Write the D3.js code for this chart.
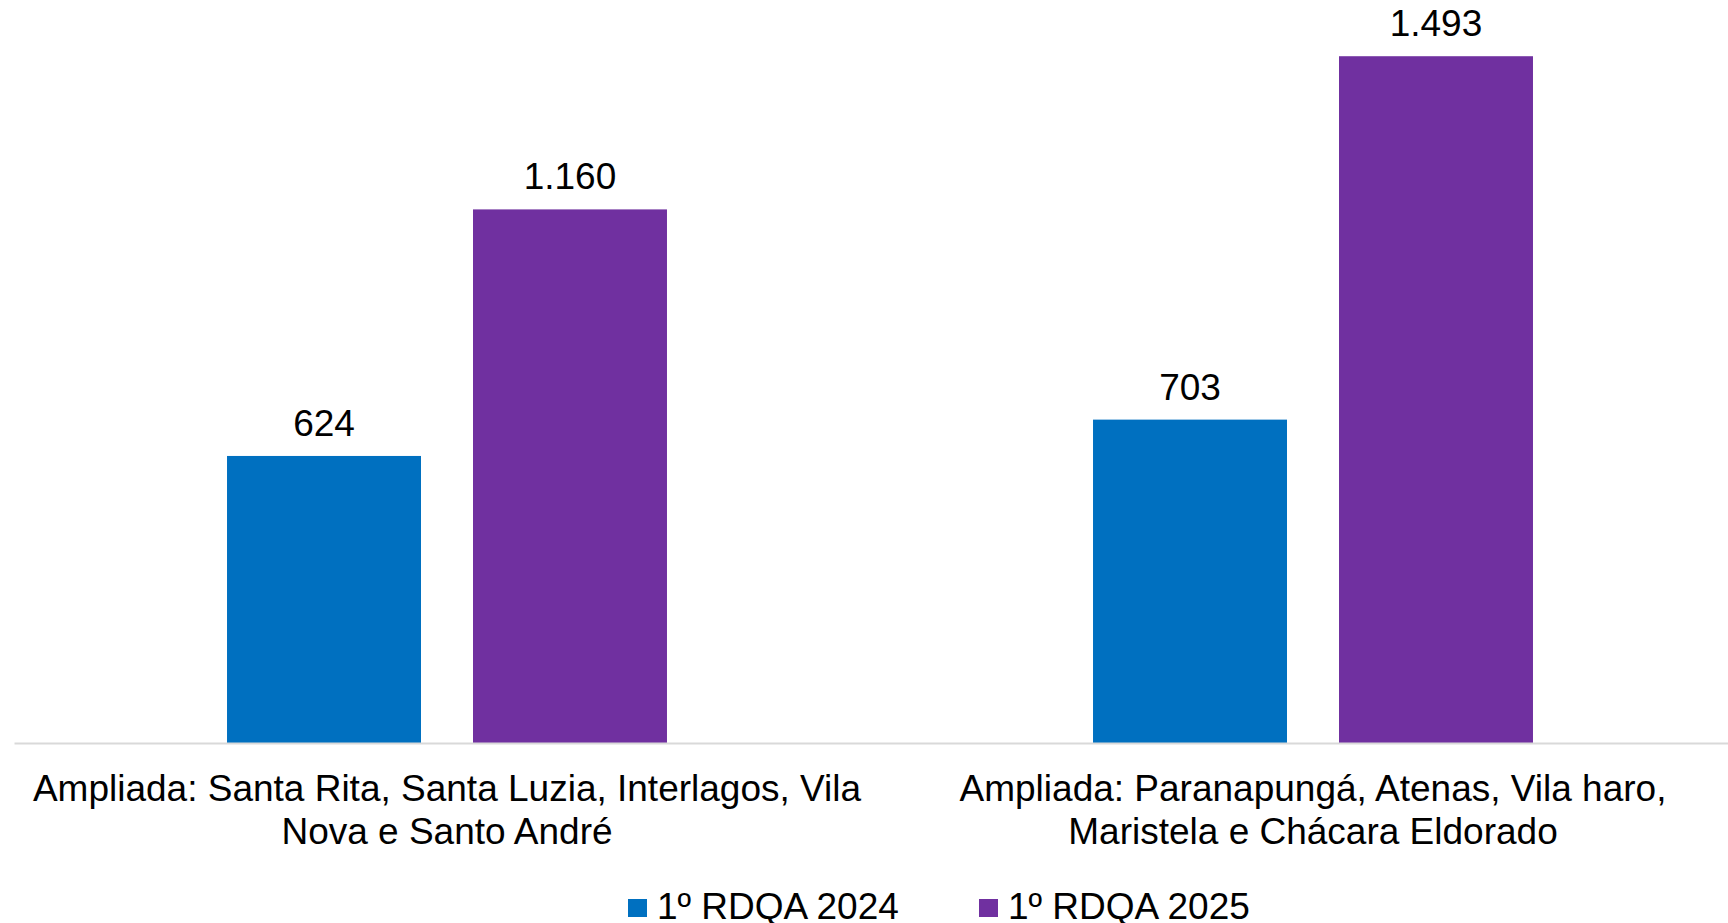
<!DOCTYPE html>
<html>
<head>
<meta charset="utf-8">
<script src="https://cdn.jsdelivr.net/npm/d3@7"></script>
<style>
  html, body { margin: 0; padding: 0; background: #fff; }
  svg { display: block; font-family: "Liberation Sans", Arial, sans-serif; }
</style>
</head>
<body>
<svg width="1728" height="923"></svg>
<script>
// data
var categories = [
  ["Ampliada: Santa Rita, Santa Luzia, Interlagos, Vila", "Nova e Santo André"],
  ["Ampliada: Paranapungá, Atenas, Vila haro,", "Maristela e Chácara Eldorado"]
];
var seriesNames = ["1º RDQA 2024", "1º RDQA 2025"];
var values2024 = [624, 703];
var values2025 = [1160, 1493];
var colors = ["#0070c0", "#7030a0"];

var width = 1728, height = 923;
var margin = {top: 7, right: -18, bottom: 180, left: 14};

var svg = d3.select("svg");

// set the ranges
var x0 = d3.scaleBand()
    .domain(d3.range(categories.length))
    .range([margin.left, width - margin.right])
    .paddingInner(0)
    .paddingOuter(0);

var x1 = d3.scaleBand()
    .domain([0, 1])
    .range([0, x0.bandwidth()])
    .paddingInner(0.2114)
    .paddingOuter(0.866);

var y = d3.scaleLinear()
    .domain([0, 1600])
    .range([height - margin.bottom, margin.top]);

var rows = categories.map(function(c, i) {
  return {i: i, vals: [values2024[i], values2025[i]]};
});

var groups = svg.selectAll("g.cat")
    .data(rows)
  .enter().append("g")
    .attr("class", "cat")
    .attr("transform", function(d) { return "translate(" + x0(d.i) + ",0)"; });

groups.selectAll("rect")
    .data(function(d) { return d.vals; })
  .enter().append("rect")
    .attr("x", function(d, j) { return x1(j); })
    .attr("y", function(d) { return y(d); })
    .attr("width", x1.bandwidth())
    .attr("height", function(d) { return y(0) - y(d); })
    .style("fill", function(d, j) { return colors[j]; });

var fmt = d3.formatLocale({decimal: ",", thousands: ".", grouping: [3], currency: ["", ""]}).format(",d");

groups.selectAll("text.val")
    .data(function(d) { return d.vals; })
  .enter().append("text")
    .attr("class", "val")
    .attr("x", function(d, j) { return x1(j) + x1.bandwidth() / 2; })
    .attr("y", function(d) { return y(d) - 20; })
    .attr("text-anchor", "middle")
    .style("font-size", "37px")
    .style("fill", "#000")
    .text(function(d) { return fmt(d); });

// x axis line
var xAxis = svg.append("g")
    .attr("transform", "translate(0," + y(0) + ")")
    .call(d3.axisBottom(x0).tickSize(0).tickFormat(""));
xAxis.select(".domain").attr("stroke", "#d9d9d9").attr("stroke-width", 2);

// category labels, two lines each
var lab = svg.selectAll("text.cat")
    .data(categories)
  .enter().append("text")
    .attr("class", "cat")
    .attr("text-anchor", "middle")
    .style("font-size", "37px")
    .style("fill", "#000");
lab.selectAll("tspan")
    .data(function(d, i) { return d.map(function(t) { return {t: t, i: i}; }); })
  .enter().append("tspan")
    .attr("x", function(d) { return x0(d.i) + x0.bandwidth() / 2; })
    .attr("y", function(d, k) { return 801 + k * 43; })
    .text(function(d) { return d.t; });

// legend
var legendX = [628, 979];
var leg = svg.selectAll("g.leg")
    .data(seriesNames)
  .enter().append("g")
    .attr("class", "leg")
    .attr("transform", function(d, i) { return "translate(" + legendX[i] + ",899)"; });
leg.append("rect")
    .attr("width", 19)
    .attr("height", 18)
    .style("fill", function(d, i) { return colors[i]; });
leg.append("text")
    .attr("x", 29)
    .attr("y", 20)
    .style("font-size", "37px")
    .style("fill", "#000")
    .text(function(d) { return d; });
</script>
</body>
</html>
